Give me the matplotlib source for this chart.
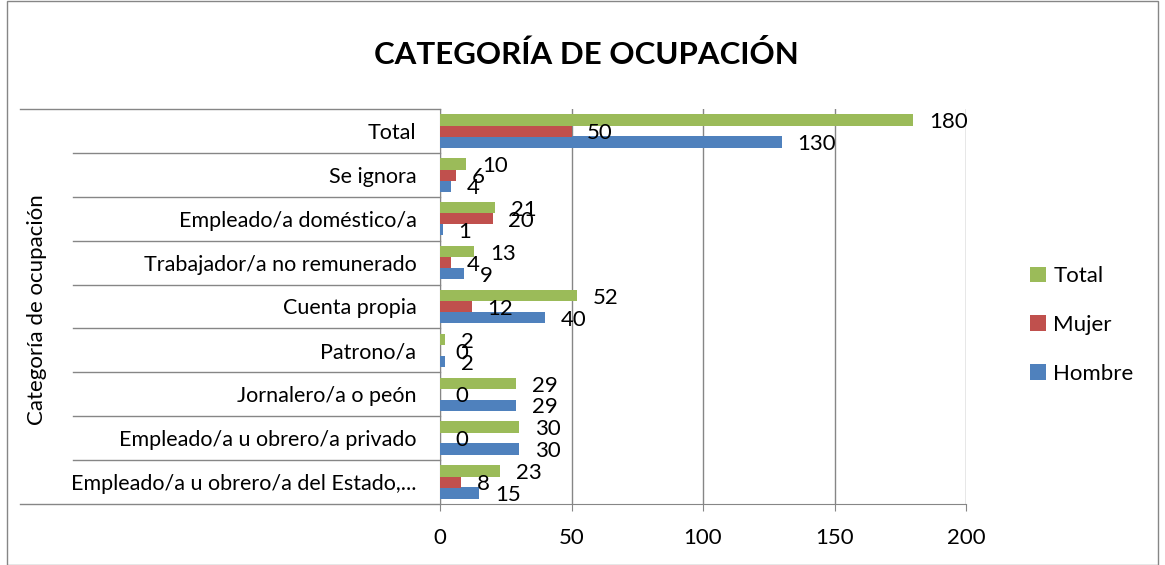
import numpy as np
import matplotlib.pyplot as plt
from matplotlib.patches import Rectangle
from matplotlib.lines import Line2D

plt.rcParams['font.family'] = ['Lato', 'DejaVu Sans']

categorias = ['Empleado/a u obrero/a del Estado,...', 'Empleado/a u obrero/a privado',
              'Jornalero/a o peón', 'Patrono/a', 'Cuenta propia',
              'Trabajador/a no remunerado', 'Empleado/a doméstico/a', 'Se ignora', 'Total']
hombre = [15, 30, 29, 2, 40, 9, 1, 4, 130]
mujer = [8, 0, 0, 0, 12, 4, 20, 6, 50]
total = [23, 30, 29, 2, 52, 13, 21, 10, 180]

series = [('Hombre', hombre, '#4F81BD', -0.25),
          ('Mujer', mujer, '#C0504D', 0.0),
          ('Total', total, '#9BBB59', 0.25)]

fig = plt.figure(figsize=(11.65, 5.65), dpi=100)
ax = fig.add_axes([440/1165, 61/565, 526/1165, 395/565])

y = np.arange(len(categorias))
handles = {}
for name, vals, color, off in series:
    bars = ax.barh(y + off, vals, height=0.26, color=color, zorder=3)
    handles[name] = bars
    for yi, v in zip(y + off, vals):
        ax.text(v + 6, yi - 0.05, str(v), va='center', ha='left', fontsize=16, zorder=4)

ax.set_xlim(0, 200)
ax.set_ylim(-0.5, len(categorias) - 0.5)
ax.set_xticks([0, 50, 100, 150, 200])
ax.tick_params(axis='x', labelsize=16, length=5, color='#868686', pad=12)
ax.grid(axis='x', color='#868686', linewidth=1, zorder=0)
ax.set_yticks(y)
ax.set_yticklabels(categorias, fontsize=15.5)
ax.tick_params(axis='y', length=0, pad=17)
for s in ['top', 'right']:
    ax.spines[s].set_visible(False)
for s in ['left', 'bottom']:
    ax.spines[s].set_color('#868686')

# separadores de categorías al estilo Excel
tr = ax.get_yaxis_transform()
for k in range(len(categorias) + 1):
    yy = k - 0.5
    x0 = (20 - 440) / 526 if k in (0, len(categorias)) else (73 - 440) / 526
    ax.add_line(Line2D([x0, 0], [yy, yy], transform=tr, color='#868686',
                       linewidth=1, clip_on=False))

fig.text(37/1165, 1 - 310/565, 'Categoría de ocupación', rotation=90,
         ha='center', va='center', fontsize=16)
fig.text(586/1165, 1 - 55/565, 'CATEGORÍA DE OCUPACIÓN', ha='center', va='center',
         fontsize=22.5, fontweight='bold')

leg = fig.legend([handles['Total'], handles['Mujer'], handles['Hombre']],
                 ['Total', 'Mujer', 'Hombre'], loc='center left',
                 bbox_to_anchor=(1010/1165, 1 - 325/565), frameon=False,
                 fontsize=16, handlelength=0.7, handleheight=0.7,
                 labelspacing=1.3, handletextpad=0.35)

fig.add_artist(Rectangle((7/1165, 0), 1 - 14/1165, 1 - 1/565, transform=fig.transFigure,
                         fill=False, edgecolor='#868686', linewidth=1))

fig.savefig('out.png', dpi=100)
